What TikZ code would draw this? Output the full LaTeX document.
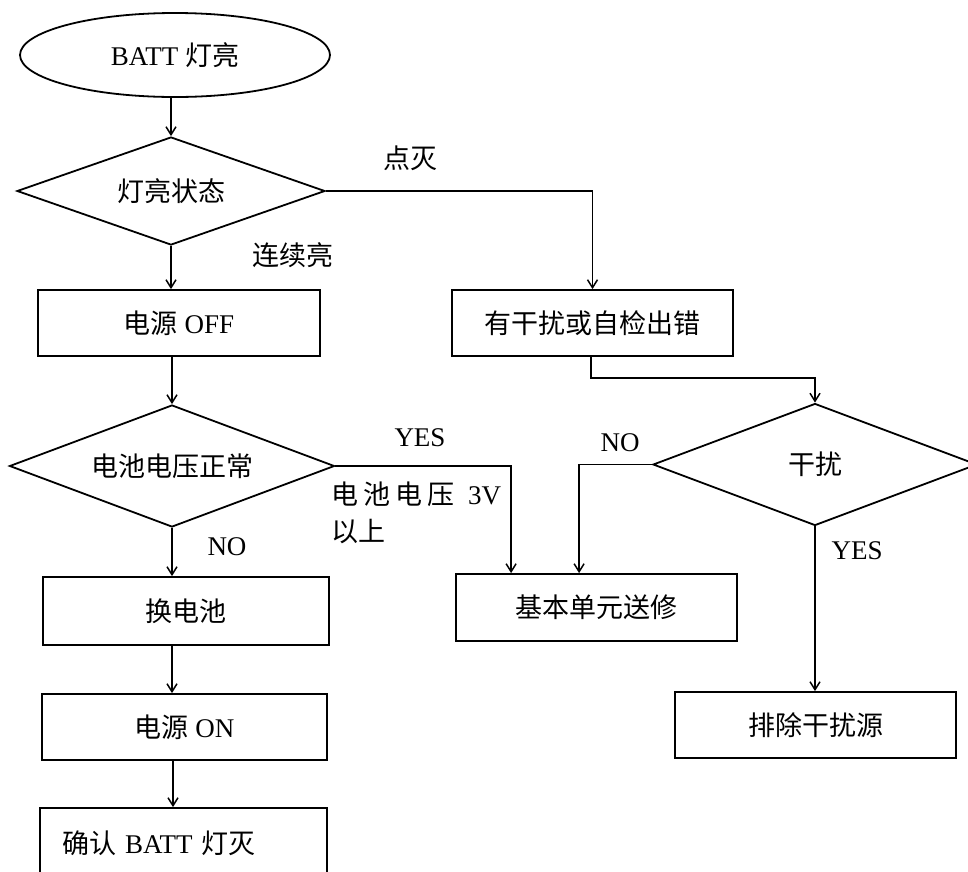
\documentclass[tikz,border=0pt]{standalone}
\usepackage{fontspec}
\setmainfont{Liberation Serif}
\newfontfamily\cjk{Noto Sans CJK SC}
\usetikzlibrary{shapes.geometric,arrows.meta}
\tikzset{
  base/.style={font=\fontsize{27pt}{38pt}\selectfont, inner sep=0pt},
  boxnode/.style={base, draw, rectangle, line width=1.8pt},
  decnode/.style={base, draw, diamond, aspect=2.7, line width=1.8pt},
  termnode/.style={base, draw, ellipse, line width=1.8pt},
  lbl/.style={base},
  conn/.style={line width=1.8pt, -{Straight Barb[length=8pt,width=10pt,line width=1.5pt]}},
}
\begin{document}
\begin{tikzpicture}[x=1pt,y=-1pt]
\useasboundingbox (0,0) rectangle (968,871);
\clip (0,0) rectangle (968,871);

% nodes
\node[termnode, minimum width=310pt, minimum height=84pt] (start) at (175,55) {BATT {\cjk 灯亮}};
\node[decnode, minimum width=308pt, minimum height=108pt] (d1) at (171,191) {\cjk 灯亮状态};
\node[boxnode, minimum width=282pt, minimum height=66pt] (off) at (179,323) {{\cjk 电源} OFF};
\node[boxnode, minimum width=281pt, minimum height=66pt] (err) at (592.5,323) {\cjk 有干扰或自检出错};
\node[decnode, minimum width=325pt, minimum height=122pt] (d2) at (172,466) {\cjk 电池电压正常};
\node[decnode, minimum width=324pt, minimum height=122pt] (d3) at (815,464.5) {\cjk 干扰};
\node[boxnode, minimum width=281pt, minimum height=67pt] (repair) at (596.5,607.5) {\cjk 基本单元送修};
\node[boxnode, minimum width=286pt, minimum height=68pt] (chg) at (186,611) {\cjk 换电池};
\node[boxnode, minimum width=281pt, minimum height=66pt] (remove) at (815.5,725) {\cjk 排除干扰源};
\node[boxnode, minimum width=285pt, minimum height=66pt] (on) at (184.5,727) {{\cjk 电源} ON};
\node[boxnode, minimum height=70pt, text width=243pt, align=left, inner xsep=22pt] (confirm) at (183.5,843) {{\cjk 确认} BATT {\cjk 灯灭}};

% labels
\node[lbl] (lmie) at (410,158) {\cjk 点灭};
\node[lbl] (llx) at (293,255) {\cjk 连续亮};
\node[lbl] (lyes1) at (420,438) {YES};
\node[lbl, anchor=west] (lv1) at (331,494) {{\cjk 电\kern5pt 池\kern5pt 电\kern5pt 压}\kern14pt 3V};
\node[lbl, anchor=west] (lv2) at (331,532) {\cjk 以上};
\node[lbl] (lno1) at (227,547) {NO};
\node[lbl] (lno2) at (620,443) {NO};
\node[lbl] (lyes2) at (857,551) {YES};

% connectors
\draw[conn] (d1.north |- start.south) -- (d1.north);
\draw[conn] (d1.south) -- (d1.south |- off.north);
\draw[conn] (d1.east) -| (err.north);
\draw[conn] (d2.north |- off.south) -- (d2.north);
\draw[conn] (d2.south) -- (d2.south |- chg.north);
\draw[conn] (d2.east) -| ([xshift=56pt]repair.north west);
\draw[conn] (d3.west) -| ([xshift=124pt]repair.north west);
\draw[conn] (d3.south) -- (d3.south |- remove.north);
\draw[conn] ([xshift=-1.5pt]err.south) -- ++(0,21) -| (d3.north);
\draw[conn] (chg.south -| d2.south) -- (on.north -| d2.south);
\draw[conn] ([xshift=1pt]on.south -| d2.south) -- ([xshift=1pt]confirm.north -| d2.south);
\end{tikzpicture}
\end{document}
